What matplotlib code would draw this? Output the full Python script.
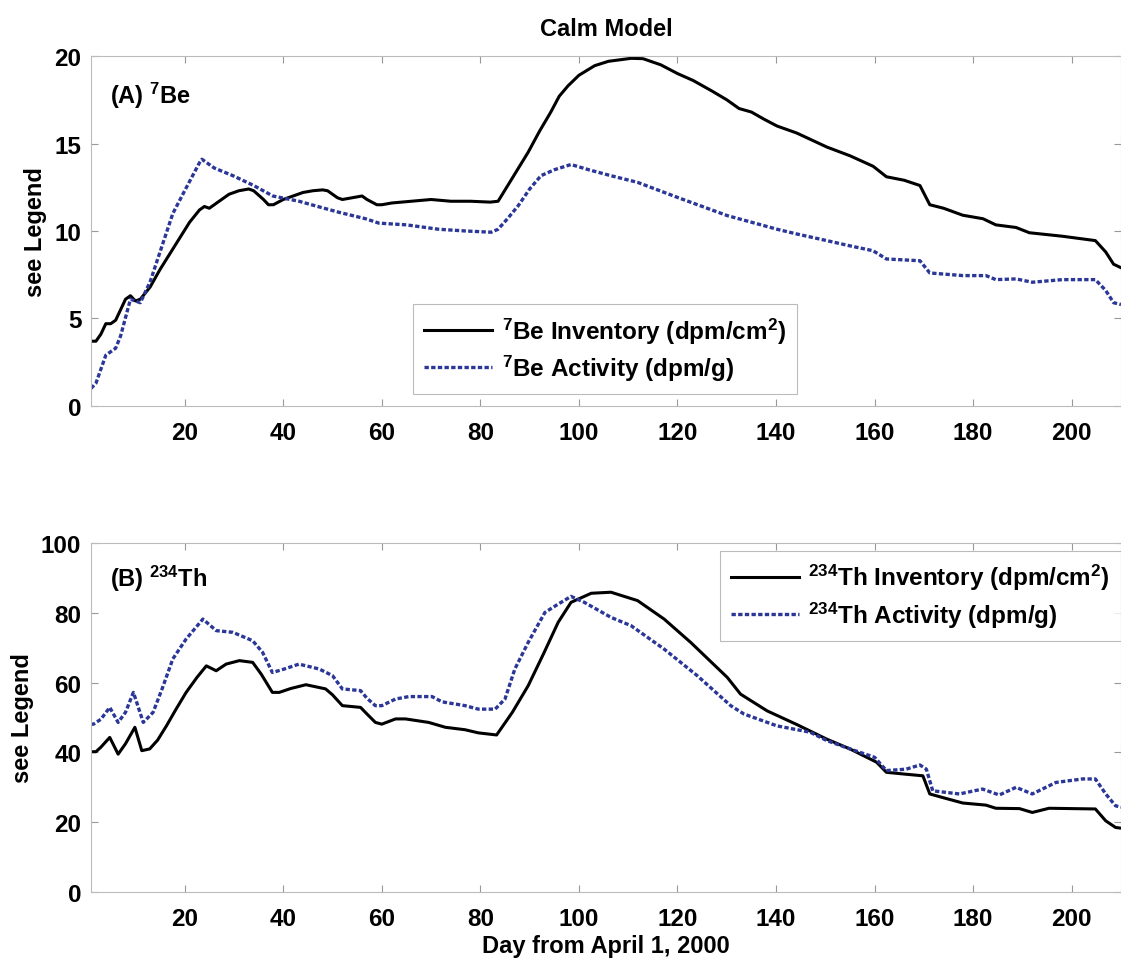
import numpy as np
from matplotlib import pyplot as plt

# datos (dia, valor)
dias_be_inv = [1, 2, 3, 4, 5, 6, 7, 8, 9, 10, 11, 13, 15, 17, 19, 21, 23, 24, 25, 27,
               29, 31, 33, 34, 36, 37, 38, 40, 42, 44, 46, 48, 49, 51, 52, 54, 56, 57, 59, 60,
               62, 66, 70, 74, 78, 82, 83.6, 86, 89.7, 92, 94.3, 96, 97.8, 100, 103.2, 106, 110.6, 113, 116.6, 120,
               123.2, 127, 130, 132.5, 135, 137.5, 140.2, 144.2, 150.3, 155, 159.7, 162.4, 166, 169.2, 171.2, 174, 177.9, 182, 184.6, 188.7,
               191.4, 198.1, 204.8, 206.9, 208.5, 210]
be_inv = [3.7, 3.7, 4.1, 4.7, 4.7, 4.9, 5.5, 6.1, 6.3, 6.0, 6.1, 6.8, 7.8, 8.7, 9.6, 10.5, 11.2, 11.4, 11.3, 11.7,
          12.1, 12.3, 12.4, 12.3, 11.8, 11.5, 11.5, 11.8, 12.0, 12.2, 12.3, 12.35, 12.3, 11.9, 11.8, 11.9, 12.0, 11.8, 11.5, 11.5,
          11.6, 11.7, 11.8, 11.7, 11.7, 11.65, 11.7, 12.8, 14.5, 15.7, 16.8, 17.7, 18.3, 18.9, 19.45, 19.7, 19.87, 19.85, 19.5, 19.0,
          18.6, 18.0, 17.5, 17.0, 16.8, 16.4, 16.0, 15.6, 14.8, 14.3, 13.7, 13.1, 12.9, 12.6, 11.5, 11.3, 10.9, 10.7, 10.35, 10.2,
          9.9, 9.7, 9.45, 8.8, 8.1, 7.9]

dias_be_act = [1, 2, 4, 6, 7, 9, 11, 13, 15, 17.6, 20, 23, 23.5, 26, 29.8, 34, 37.9, 43.2, 47, 51.3,
               56.7, 59.4, 65, 71.5, 77, 82.2, 83.6, 85.5, 87.7, 90, 92.3, 95, 98.4, 102, 106.5, 111.9, 120, 130.1, 140.2, 144.2,
               150.3, 155, 159.7, 162.4, 169.2, 171.2, 177.9, 182.6, 184.6, 188.7, 192, 198.1, 204.8, 206.9, 208.5, 210]
be_act = [1.0, 1.3, 2.9, 3.3, 4.0, 6.1, 5.9, 7.1, 8.8, 11.0, 12.3, 13.9, 14.1, 13.6, 13.16, 12.6, 12.0, 11.7, 11.4, 11.07,
          10.7, 10.45, 10.35, 10.1, 10.0, 9.93, 10.1, 10.7, 11.45, 12.4, 13.16, 13.5, 13.8, 13.5, 13.16, 12.78, 11.92, 10.88, 10.1, 9.83,
          9.45, 9.15, 8.87, 8.4, 8.3, 7.6, 7.45, 7.45, 7.22, 7.26, 7.07, 7.22, 7.22, 6.6, 5.9, 5.8]

dias_th_inv = [1, 2, 3, 4.8, 6.5, 8, 9.9, 11.3, 12.9, 14.5, 16.3, 18.3, 20.3, 22.5, 24.4, 26.4, 28.4, 31.1, 33.8, 35.5,
               37.8, 39.2, 41.5, 44.6, 48.6, 50, 52, 55.7, 57, 58.7, 60, 62.8, 64.8, 69.5, 72.9, 76.9, 79.6, 83.3, 86.5, 89.7,
               92.8, 95.8, 98.4, 102.5, 106.5, 111.9, 117.3, 122.7, 130.1, 132.8, 138.2, 144.2, 150.3, 155, 160.4, 162.4, 166, 169.8, 171.2, 174,
               177.9, 182.6, 184.6, 189.4, 192, 195.4, 204.8, 206.9, 208.9, 210]
th_inv = [40.2, 40.2, 41.5, 44.3, 39.5, 42.5, 47.2, 40.5, 41.0, 43.5, 47.6, 52.5, 57.2, 61.5, 64.8, 63.4, 65.3, 66.3, 65.8, 62.5,
          57.2, 57.2, 58.3, 59.4, 58.2, 56.5, 53.4, 52.9, 51.0, 48.6, 48.1, 49.6, 49.6, 48.6, 47.2, 46.5, 45.6, 45.0, 51.5, 59.1,
          68.2, 77.3, 83.0, 85.6, 85.9, 83.5, 78.2, 71.5, 61.5, 56.7, 51.9, 48.0, 43.8, 41.0, 37.2, 34.3, 33.8, 33.3, 28.1, 27.0,
          25.5, 24.9, 24.0, 23.9, 22.8, 24.0, 23.8, 20.4, 18.5, 18.3]

dias_th_act = [1, 1.5, 3, 4.8, 6.5, 8, 9.6, 11.6, 13.6, 15.5, 17.6, 20.3, 23.7, 26.4, 29.8, 33.8, 35.8, 37.8, 40, 43.2,
               47.3, 50, 52, 55.7, 57, 58.7, 60, 62.8, 65.5, 70.2, 72.2, 76.9, 79.6, 83, 85, 87, 89.7, 93.1, 95.8, 98.4,
               101.1, 106.5, 110.6, 117.3, 124, 130.8, 133.5, 140.2, 146.9, 150.3, 155, 160, 162.4, 166.4, 169.2, 170.5, 171.8, 177.2, 181.9, 185.3,
               188.7, 192, 196.8, 202.2, 204.8, 206.9, 208.9, 210]
th_act = [48.1, 48.1, 49.5, 52.9, 48.6, 51.5, 57.2, 48.6, 51.5, 58.5, 66.8, 72.5, 78.2, 74.9, 74.4, 72.0, 68.7, 62.9, 63.8, 65.3,
          63.9, 62.0, 58.2, 57.7, 55.5, 53.4, 53.4, 55.3, 56.0, 56.0, 54.5, 53.4, 52.4, 52.4, 55.3, 63.9, 71.5, 80.1, 82.5, 84.7,
          83.0, 78.7, 76.3, 69.6, 62.0, 53.4, 51.0, 47.6, 45.8, 43.4, 41.0, 38.6, 34.8, 35.2, 36.4, 35.2, 29.0, 28.1, 29.5, 27.8,
          30.0, 28.1, 31.4, 32.4, 32.4, 28.1, 24.7, 24.3]

xticks = [20, 40, 60, 80, 100, 120, 140, 160, 180, 200]

NEGRO = 'black'
AZUL = '#2b3798'

plt.rcParams['font.family'] = ['Liberation Sans', 'DejaVu Sans']
plt.rcParams['font.weight'] = 'bold'
plt.rcParams['mathtext.fontset'] = 'custom'
plt.rcParams['mathtext.rm'] = 'Liberation Sans:bold'
plt.rcParams['mathtext.default'] = 'rm'


def estilo(ax, ymax, yticks):
    ax.set_xlim(1, 210)
    ax.set_ylim(0, ymax)
    ax.set_xticks(xticks)
    ax.set_yticks(yticks)
    ax.tick_params(direction='in', top=True, right=True, length=5, width=0.8,
                   color='#999999', labelsize=17.5, labelcolor='black')
    ax.tick_params(axis='x', pad=11)
    ax.tick_params(axis='y', pad=7)
    for s in ax.spines.values():
        s.set_color('#bbbbbb')
        s.set_linewidth(0.8)
    ax.set_ylabel('see Legend', fontsize=17, fontweight='bold', labelpad=5)


def leyenda(ax, **kw):
    leg = ax.legend(borderaxespad=0, fontsize=17.5, handlelength=2.8, fancybox=False,
                    labelspacing=0.3, handletextpad=0.4, borderpad=0.45, **kw)
    leg.get_frame().set_edgecolor('#aaaaaa')
    leg.get_frame().set_linewidth(0.8)
    return leg


def graficar():
    fig = plt.figure(figsize=(11.21, 9.62), dpi=100)
    ax1 = fig.add_axes([0.0812, 0.577, 0.9188, 0.3637])
    ax2 = fig.add_axes([0.0812, 0.0717, 0.9188, 0.3628])

    # panel A
    ax1.plot(dias_be_inv, be_inv, color=NEGRO, lw=2.2,
             label=r'$^{7}$Be Inventory (dpm/cm$^{2}$)')
    ax1.plot(dias_be_act, be_act, color=AZUL, lw=2.4, dashes=(1.3, 0.7),
             label=r'$^{7}$Be Activity (dpm/g)')
    estilo(ax1, 20, [0, 5, 10, 15, 20])
    ax1.text(0.018, 0.89, r'(A) $^{7}$Be', transform=ax1.transAxes,
             fontsize=17, fontweight='bold', va='center')
    ax1.set_title('Calm Model', fontsize=17, fontweight='bold', pad=15)
    leyenda(ax1, loc='lower left', bbox_to_anchor=(0.313, 0.034))

    # panel B
    ax2.plot(dias_th_inv, th_inv, color=NEGRO, lw=2.2,
             label=r'$^{234}$Th Inventory (dpm/cm$^{2}$)')
    ax2.plot(dias_th_act, th_act, color=AZUL, lw=2.4, dashes=(1.3, 0.7),
             label=r'$^{234}$Th Activity (dpm/g)')
    estilo(ax2, 100, [0, 20, 40, 60, 80, 100])
    ax2.text(0.018, 0.90, r'(B) $^{234}$Th', transform=ax2.transAxes,
             fontsize=17, fontweight='bold', va='center')
    ax2.set_xlabel('Day from April 1, 2000', fontsize=17, fontweight='bold', labelpad=3)
    leyenda(ax2, loc='upper right', bbox_to_anchor=(1.0, 0.977))

    fig.savefig('out.png', dpi=100)


def main():
    graficar()


if __name__ == '__main__':
    main()
